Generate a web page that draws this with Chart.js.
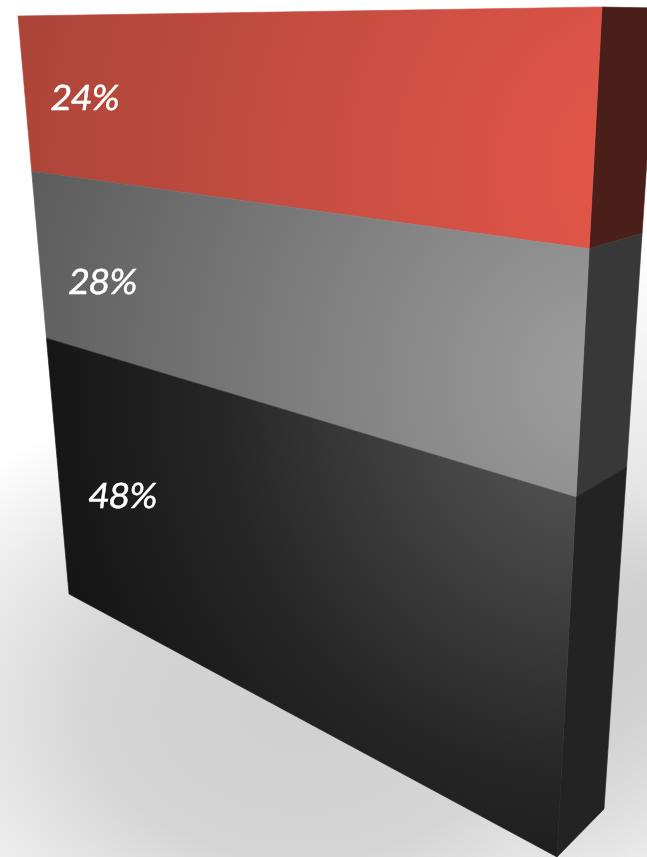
<!DOCTYPE html>
<html>
<head>
<meta charset="utf-8">
<title>Stacked slab</title>
<script src="https://cdn.jsdelivr.net/npm/chart.js@4/dist/chart.umd.min.js"></script>
<style>
  html, body { margin: 0; padding: 0; }
  body {
    width: 647px;
    height: 857px;
    overflow: hidden;
    background-color: #ffffff;
    /* soft floor shadow under and beside the slab */
    background-image:
      radial-gradient(ellipse 200px 360px at 660px 600px, rgba(0,0,0,0.15) 0%, rgba(0,0,0,0) 100%),
      radial-gradient(ellipse 460px 330px at 300px 710px, #d0d0d0 0%, #d5d5d5 45%, #ebebeb 75%, #ffffff 100%);
  }
  #wrap { position: relative; width: 647px; height: 857px; }
  canvas { display: block; }
</style>
</head>
<body>
<div id="wrap"><canvas id="slabChart" width="647" height="857"></canvas></div>
<script>
/* =========================
   DATA
========================= */
const categories = ["Share"];
const bottomBand = [48];
const middleBand = [28];
const topBand = [24];

/* =========================
   PERSPECTIVE
========================= */
// corners run top-left, top-right, bottom-right, bottom-left
const frontCorners = [[18, 16], [602, 7], [557, 857], [69, 594]];
const sideCorners = [[602, 7], [657, 8], [604, 809], [557, 857]];

// maps the unit square onto a four sided shape
function makeProjection(q) {
  const [p0, p1, p2, p3] = q;
  const dx1 = p1[0] - p2[0], dx2 = p3[0] - p2[0], sx = p0[0] - p1[0] + p2[0] - p3[0];
  const dy1 = p1[1] - p2[1], dy2 = p3[1] - p2[1], sy = p0[1] - p1[1] + p2[1] - p3[1];
  const det = dx1 * dy2 - dx2 * dy1;
  const g = (sx * dy2 - dx2 * sy) / det;
  const h = (dx1 * sy - sx * dy1) / det;
  const a = p1[0] - p0[0] + g * p1[0], b = p3[0] - p0[0] + h * p3[0];
  const d = p1[1] - p0[1] + g * p1[1], e = p3[1] - p0[1] + h * p3[1];
  return (u, v) => {
    const w = g * u + h * v + 1;
    return [(a * u + b * v + p0[0]) / w, (d * u + e * v + p0[1]) / w];
  };
}
const projectFront = makeProjection(frontCorners);
const projectSide = makeProjection(sideCorners);

/* =========================
   BAND STYLES
========================= */
const bandStyles = [
  { // dark band
    center: [600, 400], radius: 620,
    stops: [[0, "#5a5a5a"], [0.3, "#424242"], [0.6, "#272727"], [0.85, "#181818"], [1, "#121212"]],
    side: "#232323", labelU: 0.18, labelAt: 0.495
  },
  { // grey band
    center: [600, 380], radius: 600,
    stops: [[0, "#9e9e9e"], [0.5, "#7e7e7e"], [1, "#5c5c5c"]],
    side: "#383838", labelU: 0.168, labelAt: 0.57
  },
  { // red band
    center: [660, 170], radius: 660,
    stops: [[0, "#e8574a"], [0.5, "#c94e42"], [1, "#ac4438"]],
    side: "#4a1f1a", labelU: 0.157, labelAt: 0.5
  }
];

function fillQuad(ctx, pts, fill) {
  ctx.beginPath();
  pts.forEach((p, i) => (i ? ctx.lineTo(p[0], p[1]) : ctx.moveTo(p[0], p[1])));
  ctx.closePath();
  ctx.fillStyle = fill;
  ctx.strokeStyle = fill;
  ctx.lineWidth = 0.6;
  ctx.fill();
  ctx.stroke();
}

// draws one bar as a front and a side face, using the bar's own scale position
function drawBand(chart, index) {
  const ctx = chart.ctx;
  const area = chart.chartArea;
  const bar = chart.getDatasetMeta(index).data[0].getProps(["y", "base"], true);
  const top = (bar.y - area.top) / area.height;
  const bottom = (bar.base - area.top) / area.height;
  const style = bandStyles[index];

  const grad = ctx.createRadialGradient(
    style.center[0], style.center[1], 0, style.center[0], style.center[1], style.radius
  );
  style.stops.forEach(s => grad.addColorStop(s[0], s[1]));

  ctx.save();
  fillQuad(ctx, [[0, top], [1, top], [1, bottom], [0, bottom]].map(p => projectSide(p[0], p[1])), style.side);
  fillQuad(ctx, [[0, top], [1, top], [1, bottom], [0, bottom]].map(p => projectFront(p[0], p[1])), grad);
  ctx.restore();
}

function drawLabel(chart, index) {
  const ctx = chart.ctx;
  const area = chart.chartArea;
  const bar = chart.getDatasetMeta(index).data[0].getProps(["y", "base"], true);
  const style = bandStyles[index];
  const v = ((bar.y + (bar.base - bar.y) * style.labelAt) - area.top) / area.height;
  const pos = projectFront(style.labelU, v);
  const text = chart.data.datasets[index].data[0] + "%";

  ctx.save();
  ctx.translate(pos[0], pos[1]);
  ctx.transform(1, 0, -0.13, 1, 0, 0);
  ctx.fillStyle = "#ffffff";
  ctx.strokeStyle = "#ffffff";
  ctx.lineWidth = 0.5;
  ctx.font = "35px Lato, 'Open Sans', sans-serif";
  ctx.textAlign = "center";
  ctx.textBaseline = "middle";
  ctx.fillText(text, 0, 0);
  ctx.strokeText(text, 0, 0);
  ctx.restore();
}

const slabPlugin = {
  id: "slab",
  beforeDatasetDraw(chart, args) {
    drawBand(chart, args.index);
    return false; // stock rectangles are replaced by the projected faces
  },
  afterDatasetsDraw(chart) {
    chart.data.datasets.forEach((d, i) => drawLabel(chart, i));
  }
};

/* =========================
   CHART
========================= */
new Chart(document.getElementById("slabChart"), {
  type: "bar",
  data: {
    labels: categories,
    datasets: [
      { data: bottomBand, stack: "s", barPercentage: 1, categoryPercentage: 1 },
      { data: middleBand, stack: "s", barPercentage: 1, categoryPercentage: 1 },
      { data: topBand, stack: "s", barPercentage: 1, categoryPercentage: 1 }
    ]
  },
  options: {
    responsive: false,
    animation: false,
    layout: { padding: 0 },
    plugins: { legend: { display: false }, tooltip: { enabled: false } },
    scales: {
      x: { display: false, stacked: true },
      y: { display: false, stacked: true, min: 0, max: 100 }
    }
  },
  plugins: [slabPlugin]
});
</script>
</body>
</html>
